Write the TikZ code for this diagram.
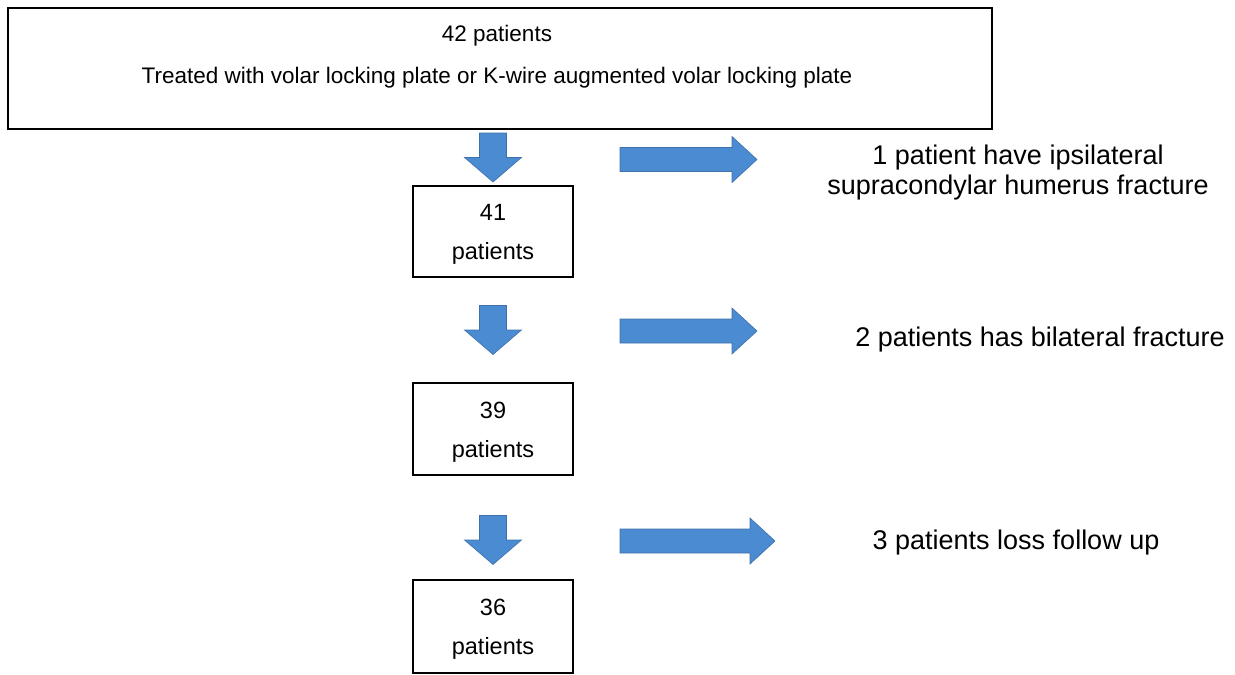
\documentclass[tikz,border=0pt]{standalone}
\usepackage{fontspec}
\setmainfont{Liberation Sans}
\usepackage{tikz}

\definecolor{arrowblue}{RGB}{74,139,210}
\definecolor{arrowedge}{RGB}{62,112,170}

\tikzset{
    box/.style={draw, line width=1.8pt, minimum width=160, minimum height=91, inner sep=0pt, align=center, font=\fontsize{23.5}{27}\selectfont},
    blk/.style={fill=arrowblue, draw=arrowedge, line width=0.6pt, line join=miter},
    side/.style={align=center, font=\fontsize{27}{30}\selectfont},
    pics/downblk/.style={code={
        \path[blk] (-13.5,-24.5) -- (13.5,-24.5) -- (13.5,0) -- (28.5,0) -- (0,24.5) -- (-28.5,0) -- (-13.5,0) -- cycle;
    }},
    pics/rightblk/.style={code={
        \path[blk] (0,-12) -- ({#1-25},-12) -- ({#1-25},-23) -- (#1,0) -- ({#1-25},23) -- ({#1-25},12) -- (0,12) -- cycle;
    }}
}

\begin{document}
\begin{tikzpicture}[x=1pt, y=-1pt]
    \useasboundingbox (0,0) rectangle (1235,675);

    % top box
    \node[draw, line width=1.8pt, minimum width=984, minimum height=121, anchor=north west] (start) at (7,7) {};
    \node[align=center, font=\fontsize{22.5}{27}\selectfont] (starttext) at (497,57) {42 patients\\[15pt]Treated with volar locking plate or K-wire augmented volar locking plate};

    % remaining patients
    \node[box] (n41) at (493,231.5) {\rule{0pt}{22pt}41\\[12pt]patients};
    \node[box, minimum height=92] (n39) at (493,429) {\rule{0pt}{22pt}39\\[12pt]patients};
    \node[box, minimum height=93] (n36) at (493,626.5) {\rule{0pt}{22pt}36\\[12pt]patients};

    % down arrows
    \pic at (493,157.5) {downblk};
    \pic at (493,330) {downblk};
    \pic at (493,540) {downblk};

    % exclusions
    \pic at (620,159.5) {rightblk=137};
    \pic at (620,331) {rightblk=137};
    \pic at (620,541) {rightblk=155};

    \node[side] (ex1) at (1018,173) {1 patient have ipsilateral\\supracondylar humerus fracture};
    \node[side] (ex2) at (1040,340) {2 patients has bilateral fracture};
    \node[side] (ex3) at (1016,543) {3 patients loss follow up};

\end{tikzpicture}
\end{document}
